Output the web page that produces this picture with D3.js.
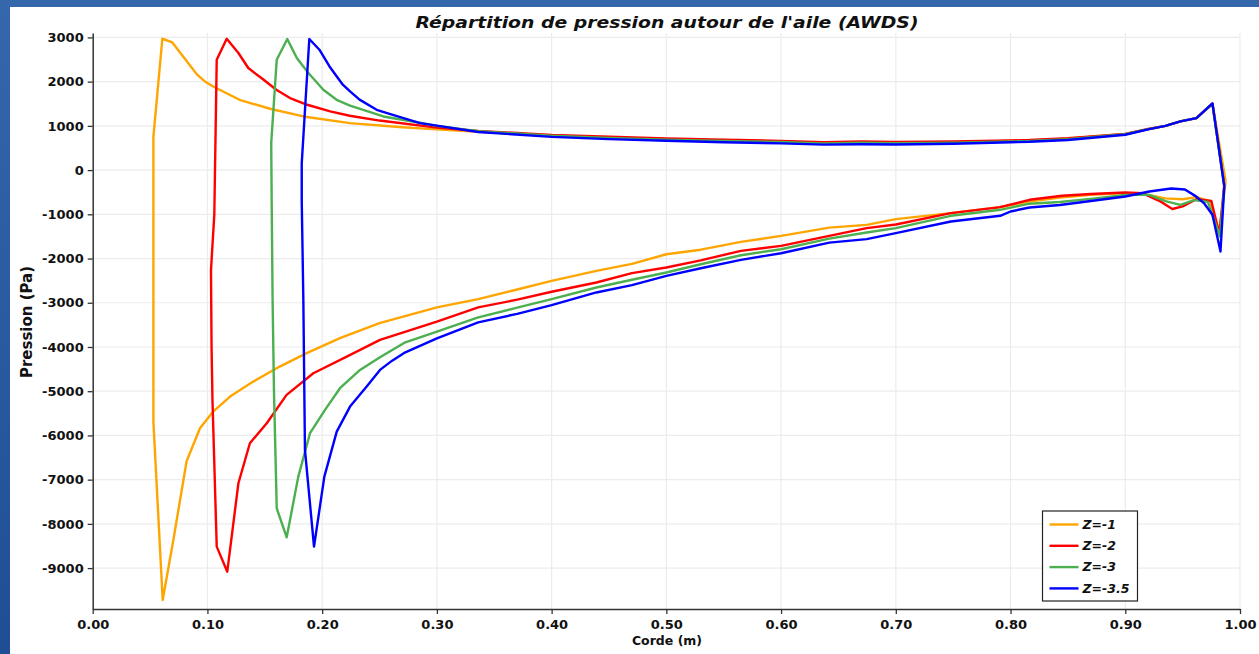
<!DOCTYPE html>
<html>
<head>
<meta charset="utf-8">
<script src="https://cdn.jsdelivr.net/npm/d3@7"></script>
<style>
  html, body { margin: 0; padding: 0; background: #ffffff; }
  svg { display: block; }
</style>
</head>
<body>
<svg id="chart" width="1259" height="654"></svg>
<script>
// Pressure distribution around the wing, one closed loop per span station.
// Each station: upper surface (leading edge -> trailing edge) and lower surface (leading edge -> trailing edge),
// points are [chord position (m), pressure (Pa)].
const seriesNames = ["Z=-1", "Z=-2", "Z=-3", "Z=-3.5"];
const xTickValues = [0.0, 0.1, 0.2, 0.3, 0.4, 0.5, 0.6, 0.7, 0.8, 0.9, 1.0];
const yTickValues = [3000, 2000, 1000, 0, -1000, -2000, -3000, -4000, -5000, -6000, -7000, -8000, -9000];

const upperZ1 = [
  [0.0529, 750], [0.0607, 2970], [0.0694, 2887], [0.0815, 2480], [0.0906, 2170], [0.0975, 2010], [0.105, 1891],
  [0.128, 1590], [0.1545, 1387], [0.1836, 1213], [0.2243, 1063], [0.27, 970], [0.30, 920],
  [0.336, 865], [0.40, 780], [0.45, 735], [0.50, 690], [0.55, 660], [0.60, 640], [0.64, 620],
  [0.67, 630], [0.70, 620], [0.75, 630], [0.80, 660], [0.8165, 670], [0.85, 710], [0.90, 815],
  [0.92, 925], [0.935, 1000], [0.948, 1100], [0.962, 1176], [0.976, 1500], [0.9875, -250]
];
const lowerZ1 = [
  [0.0529, -5690], [0.061, -9720], [0.0703, -8364], [0.0819, -6577], [0.0935, -5837], [0.105, -5461],
  [0.1197, -5122], [0.14, -4783], [0.163, -4443], [0.1865, -4140], [0.2155, -3801], [0.25, -3462],
  [0.30, -3106], [0.336, -2918], [0.37, -2700], [0.40, -2504], [0.439, -2279], [0.47, -2120],
  [0.50, -1903], [0.53, -1800], [0.565, -1624], [0.60, -1489], [0.642, -1301], [0.6746, -1238],
  [0.70, -1109], [0.748, -973], [0.791, -837], [0.8165, -710], [0.843, -620], [0.87, -560],
  [0.90, -520], [0.92, -560], [0.935, -640], [0.95, -660], [0.962, -610], [0.974, -700],
  [0.982, -1400], [0.9875, -250]
];

const upperZ2 = [
  [0.1081, 2495], [0.1168, 2970], [0.127, 2647], [0.1356, 2308], [0.149, 2043], [0.160, 1817],
  [0.172, 1629], [0.187, 1477], [0.207, 1326], [0.224, 1228], [0.25, 1120], [0.30, 960],
  [0.336, 885], [0.40, 795], [0.45, 755], [0.50, 715], [0.55, 685], [0.60, 660], [0.637, 630],
  [0.67, 645], [0.70, 635], [0.75, 645], [0.80, 670], [0.8165, 680], [0.85, 720], [0.90, 820],
  [0.92, 930], [0.935, 1000], [0.948, 1100], [0.962, 1176], [0.976, 1500], [0.9863, -340]
];
const lowerZ2 = [
  [0.1060, -1000], [0.1031, -2262], [0.1036, -4000], [0.1044, -5210], [0.1081, -8515], [0.1173, -9081],
  [0.127, -7081], [0.137, -6176], [0.1517, -5724], [0.169, -5084], [0.1923, -4593], [0.2214, -4217],
  [0.2504, -3839], [0.30, -3429], [0.336, -3106], [0.37, -2930], [0.40, -2752], [0.439, -2542],
  [0.47, -2330], [0.50, -2203], [0.53, -2040], [0.565, -1827], [0.60, -1715], [0.642, -1489],
  [0.6746, -1313], [0.70, -1230], [0.748, -973], [0.791, -837], [0.8165, -672], [0.845, -580],
  [0.87, -540], [0.90, -506], [0.915, -520], [0.93, -700], [0.941, -880], [0.95, -820],
  [0.962, -660], [0.975, -700], [0.982, -1450], [0.9863, -340]
];

const upperZ3 = [
  [0.1556, 610], [0.1604, 2495], [0.1696, 2964], [0.1779, 2534], [0.188, 2195], [0.2010, 1817],
  [0.2126, 1590], [0.2243, 1460], [0.2533, 1213], [0.2853, 1070], [0.30, 1000], [0.336, 880],
  [0.40, 775], [0.45, 725], [0.50, 690], [0.55, 660], [0.60, 635], [0.637, 605], [0.67, 620],
  [0.70, 610], [0.75, 620], [0.80, 650], [0.8165, 660], [0.85, 700], [0.90, 810], [0.92, 925],
  [0.935, 1000], [0.948, 1100], [0.962, 1176], [0.976, 1500], [0.9863, -360]
];
const lowerZ3 = [
  [0.1560, -700], [0.1568, -2934], [0.1580, -5000], [0.1604, -7647], [0.1691, -8303], [0.1792, -6932],
  [0.1894, -5950], [0.2025, -5423], [0.2155, -4932], [0.233, -4518], [0.2504, -4231], [0.2725, -3895],
  [0.30, -3655], [0.336, -3332], [0.37, -3110], [0.40, -2918], [0.439, -2655], [0.47, -2480],
  [0.50, -2316], [0.53, -2130], [0.565, -1925], [0.60, -1790], [0.642, -1549], [0.6746, -1411],
  [0.70, -1313], [0.748, -1034], [0.791, -898], [0.8165, -760], [0.843, -720], [0.87, -650],
  [0.90, -560], [0.921, -560], [0.935, -700], [0.948, -785], [0.96, -680], [0.972, -720],
  [0.9826, -1502], [0.9863, -360]
];

const upperZ35 = [
  [0.1822, 150], [0.1888, 2964], [0.1976, 2722], [0.2064, 2344], [0.2180, 1930], [0.2243, 1778],
  [0.2326, 1594], [0.2475, 1364], [0.2559, 1293], [0.2853, 1063], [0.30, 1005], [0.336, 860],
  [0.40, 750], [0.45, 700], [0.50, 665], [0.55, 630], [0.60, 605], [0.637, 575], [0.67, 585],
  [0.70, 580], [0.75, 595], [0.80, 630], [0.8165, 640], [0.85, 680], [0.90, 800], [0.92, 920],
  [0.935, 1000], [0.948, 1100], [0.962, 1176], [0.976, 1508], [0.9863, -371]
];
const lowerZ35 = [
  [0.1822, -700], [0.1836, -2934], [0.1850, -6328], [0.1929, -8515], [0.2019, -6932], [0.2127, -5914],
  [0.2243, -5348], [0.2388, -4896], [0.2504, -4518], [0.261, -4309], [0.2725, -4121], [0.30, -3805],
  [0.336, -3444], [0.37, -3250], [0.40, -3053], [0.439, -2767], [0.47, -2600], [0.50, -2391],
  [0.53, -2220], [0.565, -2030], [0.60, -1880], [0.642, -1639], [0.6746, -1561], [0.70, -1426],
  [0.748, -1162], [0.791, -1034], [0.80, -936], [0.8165, -846], [0.843, -790], [0.87, -700],
  [0.90, -597], [0.921, -484], [0.94, -416], [0.952, -440], [0.962, -600], [0.969, -760],
  [0.976, -1011], [0.983, -1842], [0.9863, -371]
];

const upperSurfaces = [upperZ1, upperZ2, upperZ3, upperZ35];
const lowerSurfaces = [lowerZ1, lowerZ2, lowerZ3, lowerZ35];
const lineColors = ["#ffa500", "#ff0000", "#4caf50", "#0000ff"];

const svg = d3.select("#chart");
const W = 1259, H = 654;
const FONT = "'DejaVu Sans', sans-serif";

// page frame: blue border with a white panel
const defs = svg.append("defs");
const grad = defs.append("linearGradient").attr("id", "frameGrad")
  .attr("x1", 0).attr("y1", 0).attr("x2", 0).attr("y2", 1);
grad.append("stop").attr("offset", "0%").attr("stop-color", "#3567ad");
grad.append("stop").attr("offset", "100%").attr("stop-color", "#1f4e95");
svg.append("rect").attr("x", 0).attr("y", 0).attr("width", W).attr("height", H).attr("fill", "url(#frameGrad)");
svg.append("rect").attr("x", 0).attr("y", 0).attr("width", W).attr("height", 7).attr("fill", "#3567ad");
svg.append("rect").attr("x", 10).attr("y", 7).attr("width", W - 10).attr("height", H - 7).attr("fill", "#ffffff");

const x = d3.scaleLinear().domain([0, 1]).range([92.7, 1240]);
const y = d3.scaleLinear().domain([-9925, 3100]).range([609, 33]);

// grid
const grid = svg.append("g");
grid.selectAll("line.vg").data(xTickValues.slice(1)).join("line")
  .attr("x1", d => x(d)).attr("x2", d => x(d))
  .attr("y1", y.range()[1]).attr("y2", y.range()[0])
  .attr("stroke", "#ececec").attr("stroke-width", 1.2);
grid.selectAll("line.hg").data(yTickValues).join("line")
  .attr("x1", x.range()[0]).attr("x2", x.range()[1])
  .attr("y1", d => y(d)).attr("y2", d => y(d))
  .attr("stroke", "#ececec").attr("stroke-width", 1.2);

// axes
const xAxis = d3.axisBottom(x).tickValues(xTickValues).tickFormat(d3.format(".2f")).tickSize(5).tickSizeOuter(0);
const yAxis = d3.axisLeft(y).tickValues(yTickValues).tickFormat(d => String(d)).tickSize(5).tickSizeOuter(0);

const gx = svg.append("g").attr("transform", `translate(0,${y.range()[0]})`).call(xAxis);
const gy = svg.append("g").attr("transform", `translate(${x.range()[0]},0)`).call(yAxis);
[gx, gy].forEach(g => {
  g.select(".domain").attr("stroke", "#333").attr("stroke-width", 1.5);
  g.selectAll(".tick line").attr("stroke", "#333").attr("stroke-width", 1.3);
  g.selectAll(".tick text").attr("fill", "#111").attr("font-family", FONT)
    .attr("font-weight", "bold").attr("font-size", "13px");
});
gx.selectAll(".tick text").attr("dy", "0.95em");
gy.selectAll(".tick text").attr("dx", "-1px");

// pressure loops
const line = d3.line().x(d => x(d[0])).y(d => y(d[1]));
const loops = upperSurfaces.map((up, i) => up.slice().reverse().concat(lowerSurfaces[i]));
svg.append("g").selectAll("path").data(loops).join("path")
  .attr("d", line)
  .attr("fill", "none")
  .attr("stroke", (d, i) => lineColors[i])
  .attr("stroke-width", 2.4)
  .attr("stroke-linejoin", "round");

// title and axis labels
svg.append("text").attr("x", 667).attr("y", 28).attr("text-anchor", "middle")
  .attr("font-family", FONT).attr("font-weight", "bold").attr("font-style", "italic")
  .attr("font-size", "16.5px").attr("fill", "#111")
  .attr("textLength", 503).attr("lengthAdjust", "spacingAndGlyphs")
  .text("Répartition de pression autour de l'aile (AWDS)");

svg.append("text").attr("transform", "translate(32,322) rotate(-90)").attr("text-anchor", "middle")
  .attr("font-family", FONT).attr("font-weight", "bold").attr("font-size", "15px").attr("fill", "#111")
  .text("Pression (Pa)");

svg.append("text").attr("x", 667).attr("y", 645).attr("text-anchor", "middle")
  .attr("font-family", FONT).attr("font-weight", "bold").attr("font-size", "12.5px").attr("fill", "#111")
  .text("Corde (m)");

// legend
const legend = svg.append("g");
legend.append("rect").attr("x", 1042.5).attr("y", 511).attr("width", 95).attr("height", 90)
  .attr("fill", "#ffffff").attr("stroke", "#222").attr("stroke-width", 1.2);
const rows = legend.selectAll("g.row").data(seriesNames).join("g")
  .attr("transform", (d, i) => `translate(0,${524.5 + i * 21.3})`);
rows.append("line").attr("x1", 1049.5).attr("x2", 1078.5).attr("y1", 0).attr("y2", 0)
  .attr("stroke", (d, i) => lineColors[i]).attr("stroke-width", 2.4);
rows.append("text").attr("x", 1082.5).attr("y", 0).attr("dy", "0.35em")
  .attr("font-family", FONT).attr("font-weight", "bold").attr("font-style", "italic")
  .attr("font-size", "12.5px").attr("fill", "#111")
  .text(d => d);
</script>
</body>
</html>
